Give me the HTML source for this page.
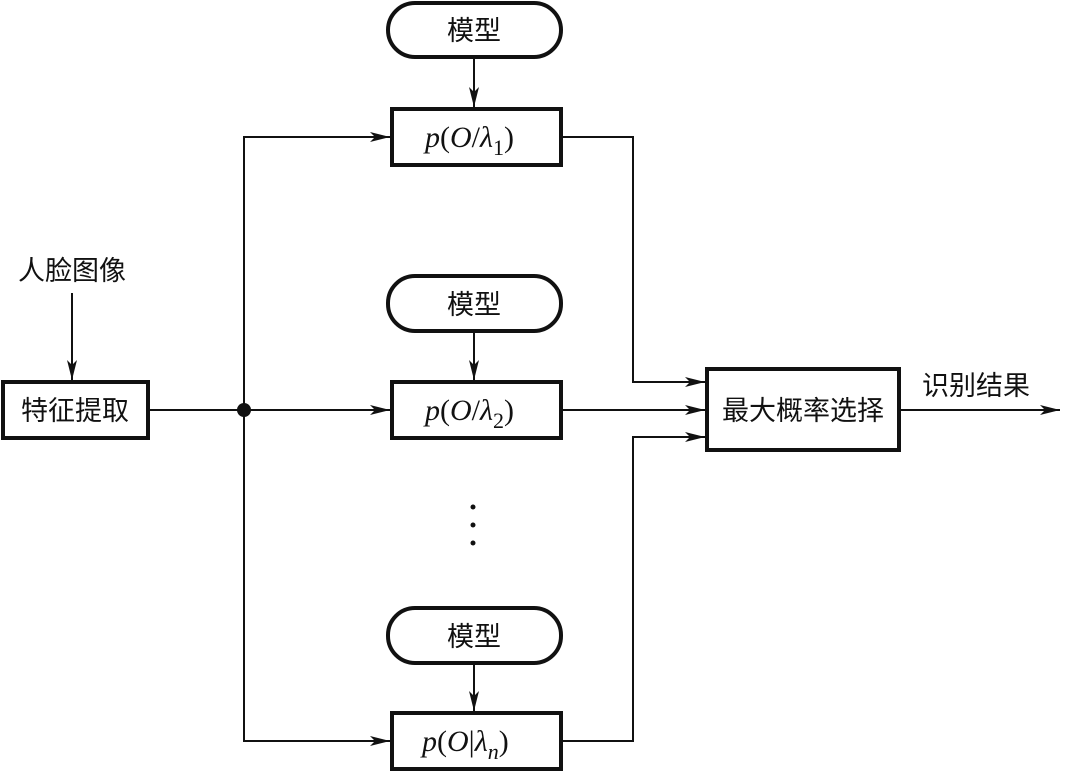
<!DOCTYPE html>
<html><head><meta charset="utf-8"><style>
html,body{margin:0;padding:0;background:#fff;}
svg{display:block;}
.cn{font-family:"Liberation Sans","Noto Sans CJK SC",sans-serif;font-size:27px;fill:#111;}
.m{font-family:"Liberation Serif",serif;font-size:30px;fill:#111;font-style:italic;}
.r{font-style:normal;}
</style></head><body>
<svg width="1065" height="772" viewBox="0 0 1065 772">
<defs>
<marker id="a" viewBox="0 0 20 10" refX="20" refY="5" markerWidth="20" markerHeight="10" markerUnits="userSpaceOnUse" orient="auto">
<path d="M0,0 L20,5 L0,10 L5,5 Z" fill="#111"/>
</marker>
</defs>
<g fill="none" stroke="#111" stroke-width="4">
<rect x="388" y="3" width="173" height="54" rx="27"/>
<rect x="388" y="276" width="173" height="55" rx="27"/>
<rect x="388" y="608" width="173" height="55" rx="27"/>
<rect x="392" y="109" width="169" height="56"/>
<rect x="392" y="382" width="169" height="56"/>
<rect x="392" y="713" width="169" height="56"/>
<rect x="3" y="382" width="145" height="56"/>
<rect x="707" y="369" width="192" height="81"/>
</g>
<g fill="none" stroke="#111" stroke-width="2">
<line x1="474" y1="57" x2="474" y2="107" marker-end="url(#a)"/>
<line x1="474" y1="331" x2="474" y2="380" marker-end="url(#a)"/>
<line x1="474" y1="663" x2="474" y2="711" marker-end="url(#a)"/>
<line x1="72" y1="293" x2="72" y2="380" marker-end="url(#a)"/>
<line x1="148" y1="410" x2="390" y2="410" marker-end="url(#a)"/>
<polyline points="390,137 244,137 244,741 390,741"/>
<line x1="300" y1="137" x2="390" y2="137" marker-end="url(#a)"/>
<line x1="300" y1="741" x2="390" y2="741" marker-end="url(#a)"/>
<polyline points="561,137 633,137 633,382 705,382" marker-end="url(#a)"/>
<line x1="561" y1="410" x2="705" y2="410" marker-end="url(#a)"/>
<polyline points="561,741 633,741 633,437 705,437" marker-end="url(#a)"/>
<line x1="899" y1="410" x2="1060" y2="410" marker-end="url(#a)"/>
</g>
<circle cx="244" cy="410" r="7" fill="#111"/>
<circle cx="473" cy="507" r="2.5" fill="#111"/>
<circle cx="473" cy="525" r="2.5" fill="#111"/>
<circle cx="473" cy="543" r="2.5" fill="#111"/>
<text class="cn" x="474" y="40" text-anchor="middle">模型</text>
<text class="cn" x="474" y="314" text-anchor="middle">模型</text>
<text class="cn" x="474" y="646" text-anchor="middle">模型</text>
<text class="cn" x="72" y="280" text-anchor="middle">人脸图像</text>
<text class="cn" x="75" y="420" text-anchor="middle">特征提取</text>
<text class="cn" x="803" y="420" text-anchor="middle">最大概率选择</text>
<text class="cn" x="976" y="395" text-anchor="middle">识别结果</text>
<text class="m" x="425" y="147">p<tspan class="r">(</tspan>O<tspan class="r">/</tspan>λ<tspan class="r" font-size="22" dy="8">1</tspan><tspan class="r" dy="-8">)</tspan></text>
<text class="m" x="425" y="420">p<tspan class="r">(</tspan>O<tspan class="r">/</tspan>λ<tspan class="r" font-size="22" dy="8">2</tspan><tspan class="r" dy="-8">)</tspan></text>
<text class="m" x="422" y="751">p<tspan class="r">(</tspan>O<tspan class="r">|</tspan>λ<tspan font-size="22" dy="8">n</tspan><tspan class="r" dy="-8">)</tspan></text>
</svg>
</body></html>
